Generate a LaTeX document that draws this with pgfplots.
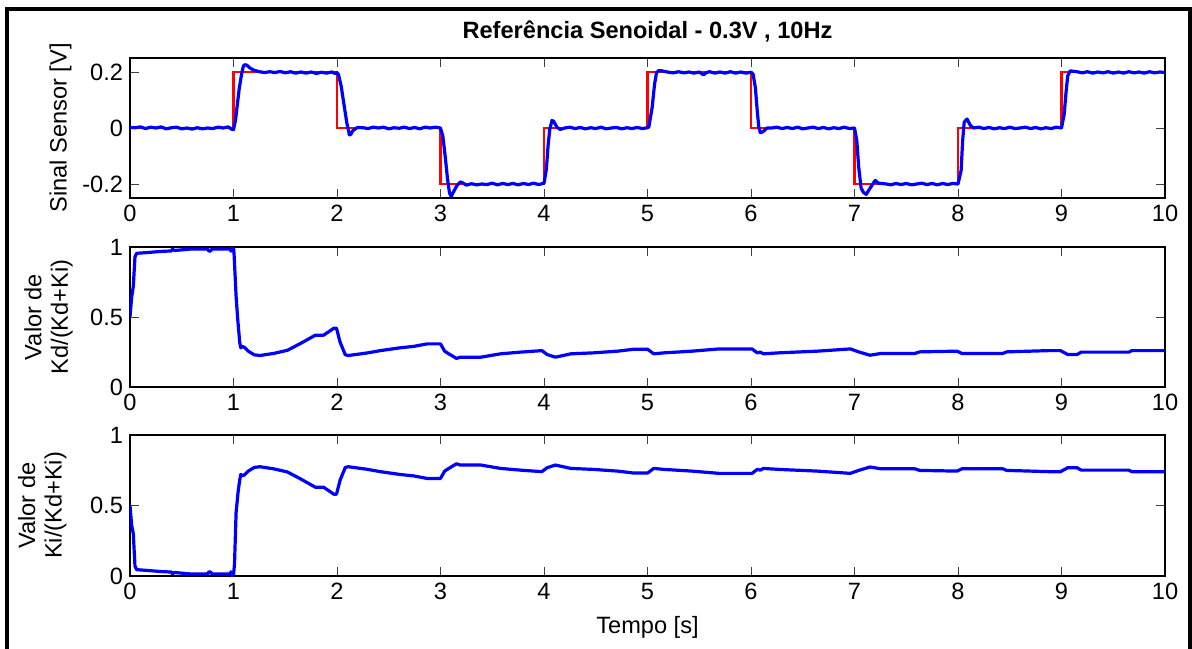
\documentclass[border=0pt]{standalone}
\usepackage{pgfplots}
\pgfplotsset{compat=1.18}
\usepackage{fontspec}
\setmainfont{Liberation Sans}
\newcommand{\fs}{\fontsize{11.8}{13.2}\selectfont}
\pgfplotsset{
  myax/.style={
    scale only axis, width=517.5pt, anchor=south west,
    xmin=0, xmax=10,
    xtick={0,1,2,3,4,5,6,7,8,9,10},
    xticklabels={0,1,2,3,4,5,6,7,8,9,10},
    tick align=inside, xtick pos=both, ytick pos=both,
    major tick length=4.3pt,
    axis line style={line width=0.6pt, black},
    every tick/.style={line width=0.5pt, black!75},
    tick label style={font=\fs},
    label style={font=\fs},
    ylabel style={at={(axis description cs:-0.055,0.5)}, anchor=south, inner sep=0pt, align=center, rotate=0},
    /pgf/number format/assume math mode=true,
  }
}
\definecolor{mblue}{rgb}{0,0,1}
\definecolor{mred}{rgb}{1,0,0}
\begin{document}
\begin{tikzpicture}
\useasboundingbox (0,0) rectangle (596pt,-324pt);
\begin{scope}
\clip (0,0) rectangle (596pt,-324pt);
\draw[line width=2pt] (3.5pt,-4.4pt) rectangle (595pt,-345pt);
\end{scope}
% ---------- axis 1 ----------
\begin{axis}[myax, at={(65pt,-99pt)}, height=70pt,
  ymin=-0.25, ymax=0.25,
  ytick={-0.2,0,0.2}, yticklabels={-0.2,0,0.2},
  ylabel={Sinal Sensor [V]},
  ylabel style={at={(axis description cs:-0.056,0.5)}},
  every axis title shift=0pt,
  title={Referência Senoidal - 0.3V , 10Hz},
  title style={at={(axis description cs:0.5,1.136)}, anchor=base, yshift=0pt, font=\fs\bfseries, inner sep=0pt},
]
\addplot[const plot, mred, line width=1.3pt] coordinates {
(0,0) (1,0.2) (2,0) (3,-0.2) (4,0) (5,0.2) (6,0) (7,-0.2) (8,0) (9,0.2) (10,0.2)};
\addplot[mblue, line width=1.6pt, line join=round] coordinates {
(0,0.002) (0.05,0.001) (0.1,0.004) (0.15,-0.002) (0.2,0.003) (0.25,0.000) (0.3,0.004) (0.35,-0.003) (0.4,0.001) (0.45,0.003) (0.5,-0.003) (0.55,0.000) (0.6,-0.004) (0.65,0.001) (0.7,-0.003) (0.75,0.000) (0.8,-0.002) (0.85,0.003) (0.9,0.000) (0.95,0.004) (0.98,-0.004) (1.0,-0.006)
(1.02,0.03) (1.055,0.14) (1.077,0.19) (1.096,0.222) (1.11,0.226) (1.13,0.224) (1.16,0.214) (1.2,0.206) (1.25,0.201) (1.3,0.198) (1.35,0.201) (1.4,0.198) (1.45,0.202) (1.5,0.197) (1.55,0.201) (1.6,0.196) (1.65,0.200) (1.7,0.196) (1.75,0.200) (1.8,0.195) (1.85,0.199) (1.9,0.196) (1.95,0.200) (1.98,0.195) (2.0,0.198)
(2.015,0.19) (2.04,0.15) (2.07,0.078) (2.095,0.018) (2.12,-0.025) (2.135,-0.022) (2.15,-0.011) (2.18,-0.002) (2.2,0.002)
(2.25,0.001) (2.3,-0.002) (2.35,0.003) (2.4,0.000) (2.45,0.003) (2.5,-0.003) (2.55,0.001) (2.6,-0.001) (2.65,0.003) (2.7,-0.002) (2.75,0.002) (2.8,-0.003) (2.85,0.003) (2.9,0.000) (2.95,0.003) (3.0,0.000)
(3.023,-0.03) (3.045,-0.10) (3.068,-0.183) (3.087,-0.232) (3.103,-0.244) (3.126,-0.228) (3.158,-0.206) (3.19,-0.193) (3.206,-0.194)
(3.25,-0.204) (3.3,-0.199) (3.35,-0.203) (3.4,-0.200) (3.45,-0.202) (3.5,-0.197) (3.55,-0.203) (3.6,-0.198) (3.65,-0.202) (3.7,-0.198) (3.75,-0.203) (3.8,-0.198) (3.85,-0.202) (3.9,-0.197) (3.95,-0.202) (3.98,-0.199) (4.0,-0.197)
(4.023,-0.147) (4.039,-0.065) (4.055,-0.006) (4.077,0.027) (4.093,0.024) (4.126,0.002) (4.158,-0.005)
(4.2,0.000) (4.25,0.003) (4.3,-0.002) (4.35,0.002) (4.4,-0.003) (4.45,0.001) (4.5,-0.002) (4.55,0.003) (4.6,-0.003) (4.65,0.000) (4.7,0.002) (4.75,-0.003) (4.8,0.001) (4.85,-0.002) (4.9,0.002) (4.95,-0.002) (5.0,0.001)
(5.013,0.004) (5.045,0.074) (5.068,0.156) (5.087,0.198) (5.11,0.205) (5.13,0.205)
(5.19,0.200) (5.25,0.197) (5.3,0.201) (5.35,0.197) (5.4,0.200) (5.45,0.196) (5.5,0.200) (5.54,0.190) (5.57,0.198) (5.6,0.201) (5.65,0.196) (5.7,0.200) (5.75,0.196) (5.8,0.201) (5.85,0.196) (5.9,0.200) (5.95,0.196) (6.0,0.199)
(6.02,0.192) (6.042,0.145) (6.06,0.062) (6.075,0.004) (6.09,-0.017) (6.116,-0.013) (6.155,0.000)
(6.2,0.000) (6.25,0.003) (6.3,-0.002) (6.35,0.002) (6.4,-0.002) (6.45,0.003) (6.5,-0.003) (6.55,0.000) (6.6,0.003) (6.65,-0.002) (6.7,0.002) (6.75,-0.003) (6.8,0.001) (6.85,-0.002) (6.9,0.003) (6.95,-0.002) (7.0,0.000)
(7.022,-0.044) (7.04,-0.138) (7.064,-0.215) (7.087,-0.23) (7.113,-0.237) (7.15,-0.215) (7.2,-0.187) (7.23,-0.197)
(7.31,-0.200) (7.35,-0.203) (7.4,-0.198) (7.45,-0.202) (7.5,-0.198) (7.55,-0.203) (7.6,-0.200) (7.65,-0.197) (7.7,-0.202) (7.75,-0.198) (7.8,-0.203) (7.85,-0.198) (7.9,-0.202) (7.95,-0.198) (8.0,-0.200)
(8.03,-0.152) (8.045,-0.044) (8.06,0.021) (8.087,0.032) (8.12,0.009)
(8.15,0.000) (8.2,0.003) (8.25,-0.002) (8.3,0.002) (8.35,-0.003) (8.4,0.001) (8.45,-0.002) (8.5,0.003) (8.55,-0.002) (8.6,0.000) (8.65,0.003) (8.7,-0.002) (8.75,0.002) (8.8,-0.003) (8.85,0.001) (8.9,-0.002) (8.95,0.003) (9.0,0.000)
(9.026,0.05) (9.045,0.133) (9.06,0.186) (9.083,0.204)
(9.15,0.201) (9.2,0.197) (9.25,0.201) (9.3,0.196) (9.35,0.200) (9.4,0.197) (9.45,0.201) (9.5,0.196) (9.55,0.200) (9.6,0.196) (9.65,0.201) (9.7,0.197) (9.75,0.200) (9.8,0.196) (9.85,0.201) (9.9,0.197) (9.95,0.200) (10,0.198)};
\end{axis}
% ---------- axis 2 ----------
\begin{axis}[myax, at={(65pt,-193.5pt)}, height=70pt,
  ymin=0, ymax=1,
  ytick={0,0.5,1}, yticklabels={0,0.5,1},
  ylabel={Valor de\\Kd/(Kd+Ki)},
  ylabel style={at={(axis description cs:-0.055,0.5)}},
]
\addplot[mblue, line width=1.6pt, line join=round] coordinates {
(0,0.5) (0.016,0.64) (0.032,0.72) (0.048,0.93) (0.065,0.955) (0.16,0.96) (0.29,0.968) (0.40,0.972) (0.41,0.985) (0.43,0.975) (0.58,0.985) (0.75,0.985) (0.76,0.972) (0.78,0.972) (0.79,0.985) (0.97,0.985) (0.975,0.97) (0.99,1.0) (1.0,0.995)
(1.005,0.955) (1.025,0.65) (1.04,0.49) (1.06,0.32) (1.07,0.28) (1.09,0.29) (1.11,0.28) (1.145,0.255) (1.2,0.23) (1.255,0.225) (1.39,0.24) (1.52,0.262) (1.645,0.31) (1.79,0.37) (1.87,0.37) (1.97,0.42) (1.995,0.42)
(2.03,0.32) (2.08,0.23) (2.11,0.225) (2.29,0.243) (2.42,0.26) (2.61,0.28) (2.74,0.29) (2.87,0.308) (3.0,0.308)
(3.04,0.256) (3.08,0.237) (3.155,0.204) (3.19,0.213) (3.39,0.213) (3.58,0.237) (3.77,0.249) (3.98,0.26)
(4.03,0.232) (4.11,0.213) (4.26,0.237) (4.48,0.244) (4.71,0.256) (4.87,0.27) (5.0,0.27)
(5.06,0.237) (5.16,0.244) (5.43,0.256) (5.69,0.272) (6.01,0.272) (6.06,0.244) (6.09,0.249) (6.12,0.237) (6.27,0.244) (6.64,0.256) (6.96,0.272)
(7.04,0.251) (7.15,0.227) (7.25,0.239) (7.58,0.239) (7.63,0.251) (7.99,0.256) (8.04,0.239) (8.43,0.239) (8.47,0.251) (8.88,0.26) (8.99,0.26)
(9.06,0.232) (9.15,0.232) (9.19,0.249) (9.65,0.249) (9.68,0.26) (10,0.26)};
\end{axis}
% ---------- axis 3 ----------
\begin{axis}[myax, at={(65pt,-288pt)}, height=70.5pt,
  ymin=0, ymax=1,
  ytick={0,0.5,1}, yticklabels={0,0.5,1},
  ylabel={Valor de\\Ki/(Kd+Ki)},
  ylabel style={at={(axis description cs:-0.061,0.5)}},
  xlabel={Tempo [s]},
  xlabel style={at={(axis description cs:0.5,-0.411)}, anchor=base, inner sep=0pt},
]
\addplot[mblue, line width=1.6pt, line join=round] coordinates {
(0,0.5) (0.016,0.36) (0.032,0.3) (0.048,0.07) (0.065,0.045) (0.16,0.04) (0.29,0.032) (0.40,0.028) (0.41,0.015) (0.43,0.025) (0.58,0.015) (0.75,0.015) (0.76,0.028) (0.78,0.028) (0.79,0.015) (0.97,0.015) (0.975,0.03) (0.99,0.0) (1.0,0.005)
(1.01,0.09) (1.025,0.45) (1.045,0.6) (1.06,0.68) (1.07,0.72) (1.09,0.71) (1.11,0.72) (1.145,0.745) (1.2,0.77) (1.255,0.775) (1.39,0.76) (1.52,0.738) (1.645,0.69) (1.79,0.63) (1.87,0.63) (1.97,0.58) (1.995,0.58)
(2.03,0.68) (2.08,0.77) (2.11,0.775) (2.29,0.757) (2.42,0.74) (2.61,0.72) (2.74,0.71) (2.87,0.692) (3.0,0.692)
(3.04,0.744) (3.08,0.763) (3.155,0.796) (3.19,0.787) (3.39,0.787) (3.58,0.763) (3.77,0.751) (3.98,0.74)
(4.03,0.768) (4.11,0.787) (4.26,0.763) (4.48,0.756) (4.71,0.744) (4.87,0.73) (5.0,0.73)
(5.06,0.763) (5.16,0.756) (5.43,0.744) (5.69,0.728) (6.01,0.728) (6.06,0.756) (6.09,0.751) (6.12,0.763) (6.27,0.756) (6.64,0.744) (6.96,0.728)
(7.04,0.749) (7.15,0.773) (7.25,0.761) (7.58,0.761) (7.63,0.749) (7.99,0.744) (8.04,0.761) (8.43,0.761) (8.47,0.749) (8.88,0.74) (8.99,0.74)
(9.06,0.768) (9.15,0.768) (9.19,0.751) (9.65,0.751) (9.68,0.74) (10,0.74)};
\end{axis}
\end{tikzpicture}
\end{document}
